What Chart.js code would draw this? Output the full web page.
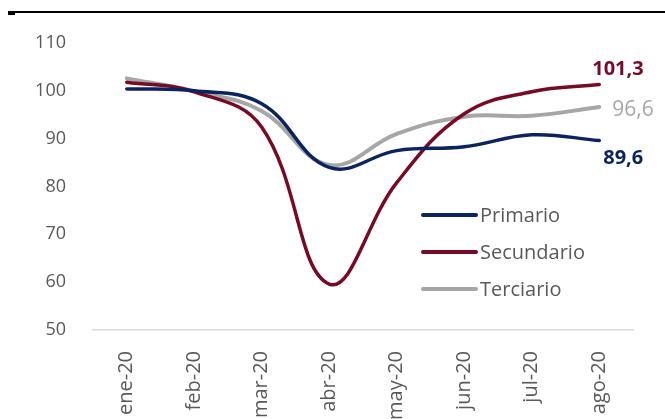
<!DOCTYPE html>
<html>
<head>
<meta charset="utf-8">
<script src="https://cdn.jsdelivr.net/npm/chart.js@4.4.1/dist/chart.umd.min.js"></script>
<style>
  html, body { margin: 0; padding: 0; background: #fff; overflow: hidden; }
  #wrap { position: relative; width: 665px; height: 419px; }
  #topline { position: absolute; left: 12px; right: 0; top: 11px; height: 2px; background: #000; }
  #topdash { position: absolute; left: 8px; width: 7px; top: 11px; height: 4px; background: #000; }
</style>
</head>
<body>
<div id="wrap">
  <canvas id="chart" width="665" height="419"></canvas>
  <div id="topline"></div>
  <div id="topdash"></div>
</div>
<script>
// meses
const labels = ['ene-20', 'feb-20', 'mar-20', 'abr-20', 'may-20', 'jun-20', 'jul-20', 'ago-20'];

// series (índice)
const primario   = [100.4, 100.0, 97.3, 84.0, 87.5, 88.3, 90.8, 89.6];
const secundario = [101.8, 99.8, 92.4, 59.6, 80.8, 95.2, 99.8, 101.3];
const terciario  = [102.6, 99.9, 95.8, 84.5, 91.0, 94.6, 94.8, 96.6];

const FONT = '"Open Sans", Lato, sans-serif';
const GRIS = '#595959';

// etiqueta del último valor de cada serie
const endLabels = {
    id: 'endLabels',
    afterDatasetsDraw(chart) {
        const ctx = chart.ctx;
        const offs = [[4, 18, 'bold 20px '], [-7, -15, 'bold 20px '], [13, 3, '21px ']];
        chart.data.datasets.forEach((ds, i) => {
            const meta = chart.getDatasetMeta(i);
            const pt = meta.data[meta.data.length - 1];
            const v = ds.data[ds.data.length - 1];
            ctx.save();
            ctx.font = offs[i][2] + FONT;
            ctx.fillStyle = ds.labelColor;
            ctx.textAlign = 'left';
            ctx.textBaseline = 'middle';
            ctx.fillText(v.toFixed(1).replace('.', ','), pt.x + offs[i][0], pt.y + offs[i][1]);
            ctx.restore();
        });
    }
};

// leyenda dentro del área del gráfico
const innerLegend = {
    id: 'innerLegend',
    afterDraw(chart) {
        const ctx = chart.ctx;
        const x0 = 423, y0 = 215, step = 37;
        chart.data.datasets.forEach((ds, i) => {
            const y = y0 + i * step;
            ctx.save();
            ctx.strokeStyle = ds.borderColor;
            ctx.lineWidth = 4;
            ctx.lineCap = 'round';
            ctx.beginPath();
            ctx.moveTo(x0, y);
            ctx.lineTo(x0 + 53, y);
            ctx.stroke();
            ctx.font = '20px ' + FONT;
            ctx.fillStyle = GRIS;
            ctx.textBaseline = 'middle';
            ctx.fillText(ds.label, x0 + 57, y + 1);
            ctx.restore();
        });
    }
};

new Chart(document.getElementById('chart'), {
    type: 'line',
    data: {
        labels: labels,
        datasets: [
            { label: 'Primario', data: primario, borderColor: '#0B2461', labelColor: '#0B2461', borderWidth: 3.5 },
            { label: 'Secundario', data: secundario, borderColor: '#780A26', labelColor: '#780A26', borderWidth: 3.5 },
            { label: 'Terciario', data: terciario, borderColor: '#A6A6A6', labelColor: '#A6A6A6', borderWidth: 4 }
        ]
    },
    options: {
        responsive: false,
        animation: false,
        layout: { padding: { top: 43, right: 32, left: 0, bottom: 0 } },
        elements: {
            line: { tension: 0.4, fill: false, borderCapStyle: 'round' },
            point: { radius: 0 }
        },
        plugins: { legend: { display: false }, tooltip: { enabled: false } },
        scales: {
            x: {
                offset: true,
                grid: { display: false },
                border: { display: true, color: '#D9D9D9', width: 1.5 },
                ticks: { minRotation: 90, maxRotation: 90, padding: 13, color: GRIS, font: { family: FONT, size: 20 } },
                afterFit: (s) => { s.height = 89; }
            },
            y: {
                min: 50, max: 110,
                grid: { display: false },
                border: { display: false },
                ticks: { stepSize: 10, padding: 19, color: GRIS, font: { family: FONT, size: 18 } },
                afterFit: (s) => { s.width = 93; }
            }
        }
    },
    plugins: [endLabels, innerLegend]
});
</script>
</body>
</html>
